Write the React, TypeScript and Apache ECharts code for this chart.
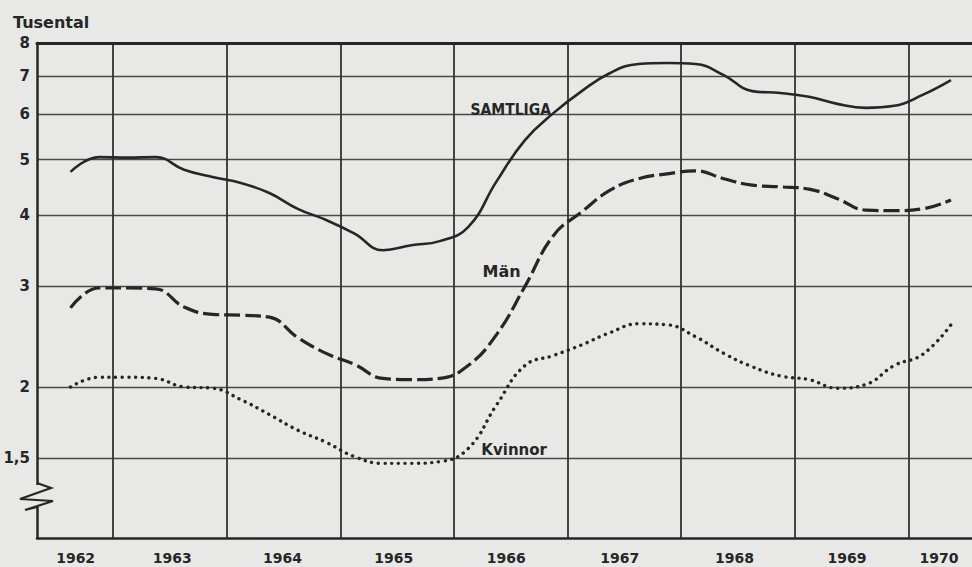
import React, { useEffect, useRef } from 'react';
import * as echarts from 'echarts';

// Time (year fraction) of each plotted point, quarterly
const quarters = [
  1962.625, 1962.875, 1963.125, 1963.375, 1963.625, 1963.875, 1964.125, 1964.375,
  1964.625, 1964.875, 1965.125, 1965.375, 1965.625, 1965.875, 1966.125, 1966.375,
  1966.625, 1966.875, 1967.125, 1967.375, 1967.625, 1967.875, 1968.125, 1968.375,
  1968.625, 1968.875, 1969.125, 1969.375, 1969.625, 1969.875, 1970.125, 1970.375,
];

// Tusental
const samtliga = [
  4.76, 5.05, 5.04, 5.05, 4.8, 4.66, 4.55, 4.37, 4.1, 3.92, 3.71, 3.47, 3.54, 3.6, 3.81, 4.58,
  5.41, 6.03, 6.59, 7.09, 7.35, 7.38, 7.35, 7.03, 6.59, 6.54, 6.44, 6.26, 6.16, 6.21, 6.49, 6.89,
];
const man = [
  2.75, 2.98, 2.98, 2.97, 2.76, 2.68, 2.67, 2.65, 2.44, 2.29, 2.19, 2.07, 2.06, 2.07, 2.18, 2.47,
  3.0, 3.68, 4.05, 4.42, 4.63, 4.72, 4.78, 4.63, 4.51, 4.48, 4.44, 4.27, 4.08, 4.07, 4.1, 4.25,
];
const kvinnor = [
  2.0, 2.08, 2.08, 2.07, 2.0, 1.99, 1.9, 1.79, 1.68, 1.6, 1.51, 1.47, 1.47, 1.48, 1.56, 1.86,
  2.18, 2.27, 2.37, 2.49, 2.58, 2.57, 2.45, 2.29, 2.17, 2.09, 2.06, 1.99, 2.02, 2.18, 2.28, 2.57,
];

const yearBoundaries = [1963, 1964, 1965, 1966, 1967, 1968, 1969, 1970];
const yearLabelPositions = [1962.67, 1963.52, 1964.49, 1965.47, 1966.46, 1967.46, 1968.47, 1969.46, 1970.27];
const yTicks = [1.5, 2, 3, 4, 5, 6, 7, 8];

const seriesNames = ['SAMTLIGA', 'Män', 'Kvinnor'];
const labelCoords: [number, number][] = [
  [1966.5, 6.11],
  [1966.42, 3.18],
  [1966.53, 1.55],
];

const X_MIN = 1962.33;
const X_MAX = 1970.56;
const Y_MIN = 1.088;
const Y_MAX = 8;

const BG = '#e8e9e6';
const INK = '#262626';

export default function App() {
  const ref = useRef<HTMLDivElement>(null);

  useEffect(() => {
    if (!ref.current) return;
    const chart = echarts.init(ref.current, undefined, { renderer: 'svg' });

    const toPairs = (vals: number[]) => quarters.map((t, i) => [t, vals[i]]);
    const markLabel = (i: number, font: any) => ({
      silent: true,
      symbol: 'rect',
      symbolSize: 1,
      itemStyle: { color: 'rgba(0,0,0,0)' },
      data: [
        {
          coord: labelCoords[i],
          label: {
            show: true,
            position: 'inside',
            formatter: seriesNames[i],
            color: INK,
            ...font,
          },
        },
      ],
    });

    chart.setOption({
      animation: false,
      backgroundColor: BG,
      grid: { left: 37, right: 0, top: 43, bottom: 29, containLabel: false, outerBoundsMode: 'none' },
      xAxis: [
        {
          type: 'value',
          min: X_MIN,
          max: X_MAX,
          position: 'bottom',
          axisLine: { show: true, onZero: false, lineStyle: { color: INK, width: 2.5 } },
          axisTick: { show: false, customValues: yearBoundaries },
          splitLine: { show: true, lineStyle: { color: '#333', width: 1.8 } },
          axisLabel: {
            customValues: yearLabelPositions,
            formatter: (v: number) => String(Math.floor(v)),
            color: INK,
            fontFamily: 'DejaVu Sans',
            fontWeight: 'bold',
            fontSize: 14,
            margin: 13,
          },
        },
        {
          type: 'value',
          min: X_MIN,
          max: X_MAX,
          position: 'top',
          axisLine: { show: true, onZero: false, lineStyle: { color: INK, width: 3 } },
          axisTick: { show: false },
          splitLine: { show: false },
          axisLabel: { show: false },
        },
      ],
      yAxis: {
        type: 'log',
        logBase: 10,
        min: Y_MIN,
        max: Y_MAX,
        axisLine: { show: true, onZero: false, lineStyle: { color: INK, width: 2.5 } },
        axisTick: { show: false, customValues: yTicks },
        splitLine: { show: true, lineStyle: { color: '#4a4a4a', width: 1.4 } },
        axisLabel: {
          customValues: yTicks,
          formatter: (v: number) => (v === 1.5 ? '1,5' : String(v)),
          color: INK,
          fontFamily: 'DejaVu Sans',
          fontWeight: 'bold',
          fontSize: 15,
          margin: 7,
        },
      },
      graphic: [
        {
          type: 'text',
          left: 13,
          top: 14,
          z: 100,
          style: {
            text: 'Tusental',
            fill: INK,
            font: 'bold 16px "DejaVu Sans"',
          },
        },
        {
          type: 'rect',
          z: 100,
          shape: { x: 32, y: 485, width: 10, height: 22 },
          style: { fill: BG },
        },
        {
          type: 'polyline',
          z: 101,
          shape: {
            points: [
              [37, 483],
              [51, 488],
              [20, 499],
              [53, 501],
              [25, 510],
              [37, 507],
            ],
          },
          style: { stroke: INK, lineWidth: 2.2, fill: null },
        },
      ],
      series: [
        {
          name: seriesNames[0],
          type: 'line',
          data: toPairs(samtliga),
          smooth: 0.45,
          symbol: 'none',
          lineStyle: { color: INK, width: 2.6 },
          markPoint: markLabel(0, {
            fontFamily: '"DejaVu Sans Condensed", "Liberation Sans Narrow", sans-serif',
            fontWeight: 'bold',
            fontSize: 15.5,
          }),
        },
        {
          name: seriesNames[1],
          type: 'line',
          data: toPairs(man),
          smooth: 0.45,
          symbol: 'none',
          lineStyle: { color: INK, width: 3.2, type: [16, 5], cap: 'butt' },
          markPoint: markLabel(1, {
            fontFamily: 'DejaVu Sans',
            fontWeight: 'bold',
            fontSize: 16,
          }),
        },
        {
          name: seriesNames[2],
          type: 'line',
          data: toPairs(kvinnor),
          smooth: 0.45,
          symbol: 'none',
          lineStyle: { color: INK, width: 3.4, type: [0.1, 6.6], cap: 'round' },
          markPoint: markLabel(2, {
            fontFamily: 'DejaVu Sans',
            fontWeight: 'bold',
            fontSize: 15,
          }),
        },
      ],
    });

    return () => chart.dispose();
  }, []);

  return (
    <div
      ref={ref}
      style={{ position: 'fixed', left: 0, top: 0, width: 972, height: 567 }}
    />
  );
}
